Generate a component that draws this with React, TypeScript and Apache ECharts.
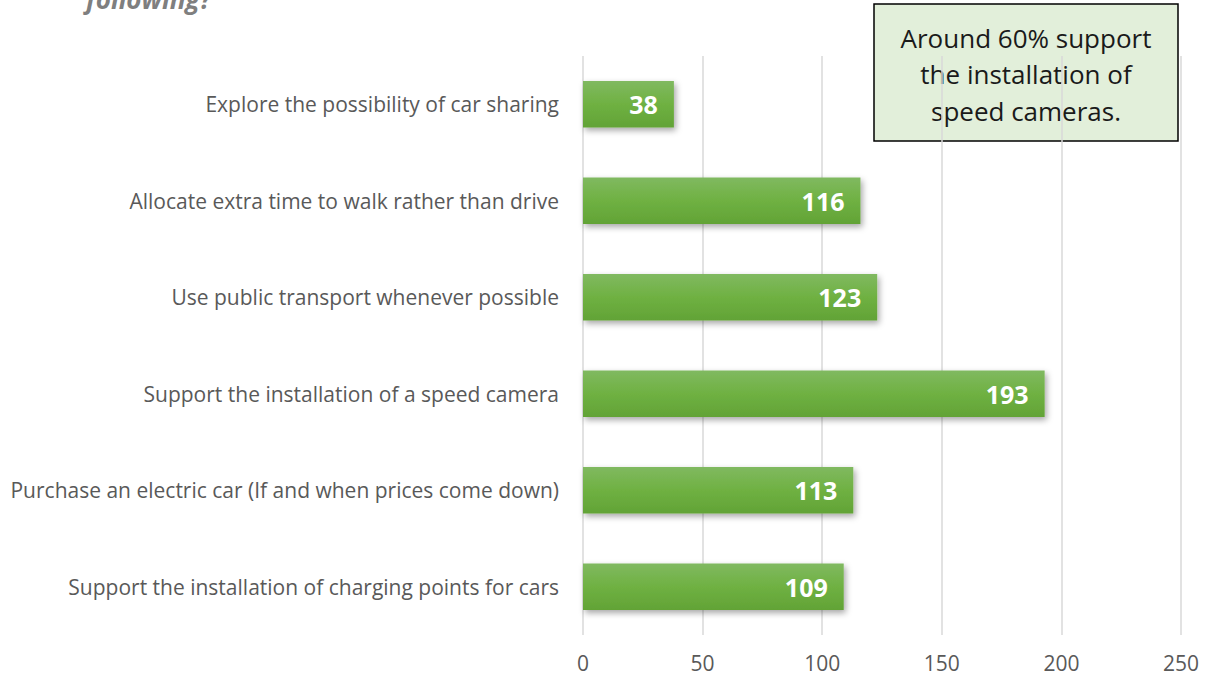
import React, { useEffect, useRef } from "react";
import * as echarts from "echarts";

const categories = [
  "Explore the possibility of car sharing",
  "Allocate extra time to walk rather than drive",
  "Use public transport whenever possible",
  "Support the installation of a speed camera",
  "Purchase an electric car (If and when prices come down)",
  "Support the installation of charging points for cars",
];
const values = [38, 116, 123, 193, 113, 109];
const titleText = "following?";
const noteLines = ["Around 60% support", "the installation of", "speed cameras."];

export default function App() {
  const ref = useRef<HTMLDivElement>(null);
  useEffect(() => {
    const chart = echarts.init(ref.current!, null, { renderer: "svg" });
    chart.setOption({
      animation: false,
      textStyle: { fontFamily: "Open Sans" },
      grid: { left: 583, right: 26, top: 56, bottom: 45, containLabel: false },
      xAxis: {
        type: "value",
        min: 0,
        max: 250,
        interval: 50,
        axisLine: { show: false },
        axisTick: { show: false },
        splitLine: { lineStyle: { color: "#d9d9d9", width: 1.5 } },
        axisLabel: { color: "#595959", fontSize: 21, margin: 17, fontFamily: "Open Sans" },
      },
      yAxis: {
        type: "category",
        inverse: true,
        data: categories,
        axisLine: { show: false },
        axisTick: { show: false },
        axisLabel: { color: "#595959", fontSize: 21, margin: 24, fontFamily: "Open Sans" },
      },
      series: [
        {
          type: "bar",
          data: values,
          barWidth: "48%",
          itemStyle: {
            color: new echarts.graphic.LinearGradient(0, 0, 0, 1, [
              { offset: 0, color: "#80b960" },
              { offset: 0.5, color: "#6fb142" },
              { offset: 1, color: "#62a336" },
            ]),
            shadowColor: "rgba(0,0,0,0.35)",
            shadowBlur: 6,
            shadowOffsetX: 2,
            shadowOffsetY: 3,
          },
          label: {
            show: true,
            position: "insideRight",
            distance: 16,
            color: "#ffffff",
            fontWeight: "bold",
            fontSize: 25,
            fontFamily: "Open Sans",
          },
        },
      ],
      graphic: [
        {
          type: "text",
          x: 86,
          y: -14,
          style: {
            text: titleText,
            fill: "#7f7f7f",
            font: "italic bold 26px 'Open Sans'",
          },
        },
        {
          type: "rect",
          shape: { x: 874, y: 4, width: 304, height: 137 },
          style: { fill: "#e2efda", stroke: "#000000", lineWidth: 1.5 },
        },
        {
          type: "text",
          x: 1026,
          y: 19.5,
          style: {
            text: noteLines.join("\n"),
            fill: "#1a1a1a",
            font: "26px 'Open Sans'",
            lineHeight: 36.5,
            align: "center",
          },
        },
      ],
    });
    return () => chart.dispose();
  }, []);
  return (
    <div
      ref={ref}
      style={{ position: "fixed", left: 0, top: 0, width: 1207, height: 680, background: "#fff" }}
    />
  );
}
